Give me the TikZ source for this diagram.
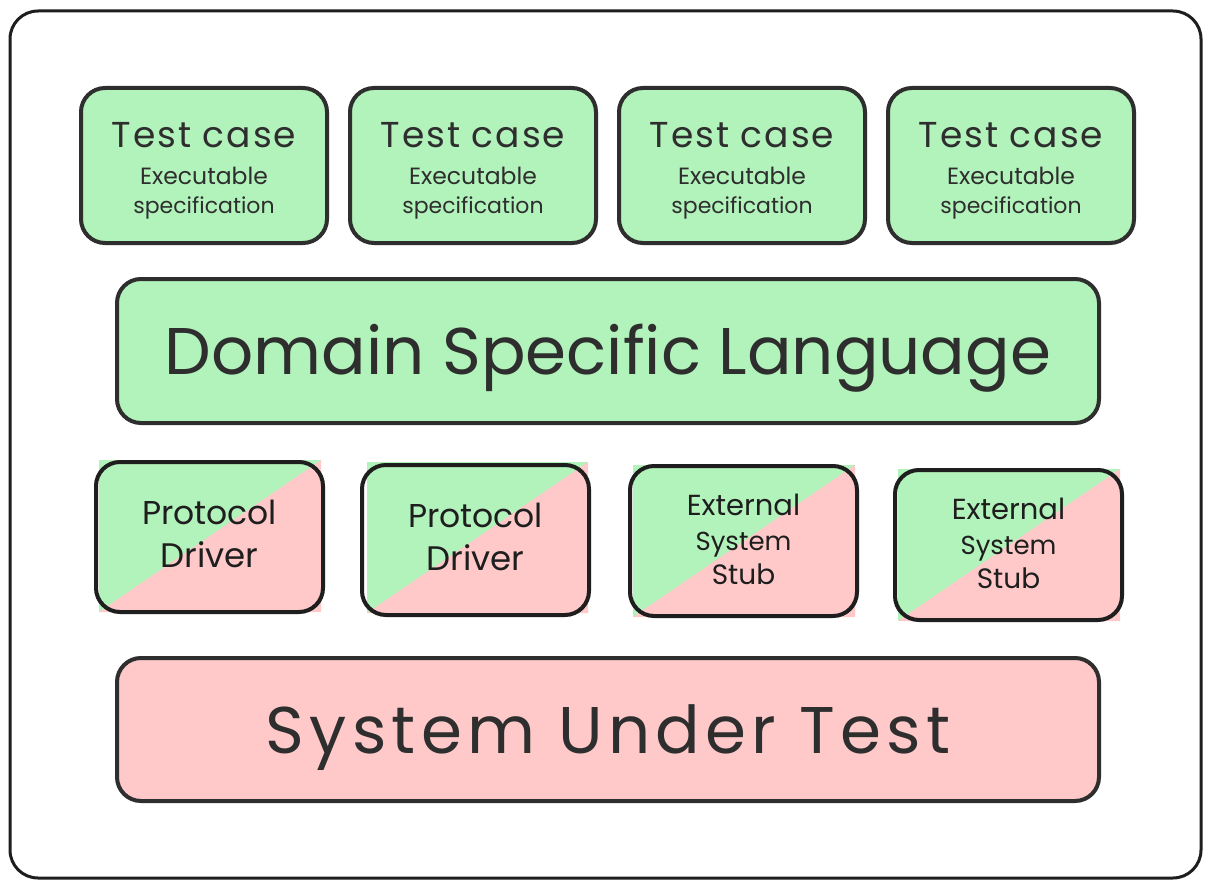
\documentclass[tikz,border=0pt]{standalone}
\usepackage{fontspec}
\setmainfont{Poppins}
\definecolor{mint}{HTML}{B2F2BB}
\definecolor{blush}{HTML}{FFC9C9}
\definecolor{ink}{HTML}{1E1E1E}
\definecolor{softink}{HTML}{2E2E2E}
\newcommand{\fs}[1]{\fontsize{#1}{#1}\selectfont}
\newcommand{\spc}[1]{\addfontfeature{LetterSpace=#1}}
\newcommand{\pushdown}[2]{\raisebox{0pt}[\dimexpr\height+#1\relax]{#2}}
\tikzset{
  x=1pt,y=-1pt,
  box/.style={draw=ink,line width=4pt,outer sep=0pt,rounded corners=24pt,inner sep=0pt,text=softink,align=center,anchor=north west},
  testbox/.style={box,draw=softink,fill=mint,minimum width=246pt,minimum height=155pt},
  wideboxg/.style={box,draw=softink,fill=mint,minimum width=982pt,minimum height=144pt},
  wideboxp/.style={box,draw=softink,fill=blush,minimum width=982pt,minimum height=143pt},
  splitbox/.style={box,minimum width=227pt,minimum height=150pt,text=ink},
}
\newcommand{\testcase}[2]{\node[testbox] (#1) at (#2) {\pushdown{10pt}{\fs{36}\spc{5.5}Test case}\\[18pt]{\fs{23.5}Executable}\\[11pt]{\fs{22}specification}};}
\newcommand{\splitfill}[4]{%
  \fill[mint] (#1,#2) rectangle (#3,#4);
  \fill[blush] (#1,#4) -- (#3,#2) -- (#3,#4) -- cycle;}
\newcommand{\drivertext}{\pushdown{-6pt}{\fs{33}Protocol}\\[16pt]{\fs{34}Driver}}
\newcommand{\stubtext}{\pushdown{-4pt}{\fs{29}External}\\[16pt]{\fs{26}System}\\[5pt]{\fs{28}Stub}}
\begin{document}
\begin{tikzpicture}
\useasboundingbox (0,0) rectangle (1211,888);
\fill[white] (0,0) rectangle (1211,888);
\node[box,draw=ink,line width=3pt,rounded corners=28pt,minimum width=1191pt,minimum height=867pt] (frame) at (10,11) {};
\testcase{t1}{81,88}
\testcase{t2}{350,88}
\testcase{t3}{619,88}
\testcase{t4}{888,88}
\node[wideboxg,font=\fs{66}] (dsl) at (117,279) {\pushdown{14pt}{Domain Specific Language}};
\splitfill{99}{460}{321}{612}
\node[splitbox] (d1) at (96,462) {\drivertext};
\splitfill{367}{462}{588}{613}
\node[splitbox] (d2) at (362,465) {\drivertext};
\splitfill{633}{465}{855}{617}
\node[splitbox] (s1) at (630,466) {\stubtext};
\splitfill{898}{469}{1120}{621}
\node[splitbox] (s2) at (895,470) {\stubtext};
\node[wideboxp,font={\fs{66}\spc{8}}] (sut) at (117,658) {\pushdown{16pt}{System Under Test}};
\end{tikzpicture}
\end{document}
